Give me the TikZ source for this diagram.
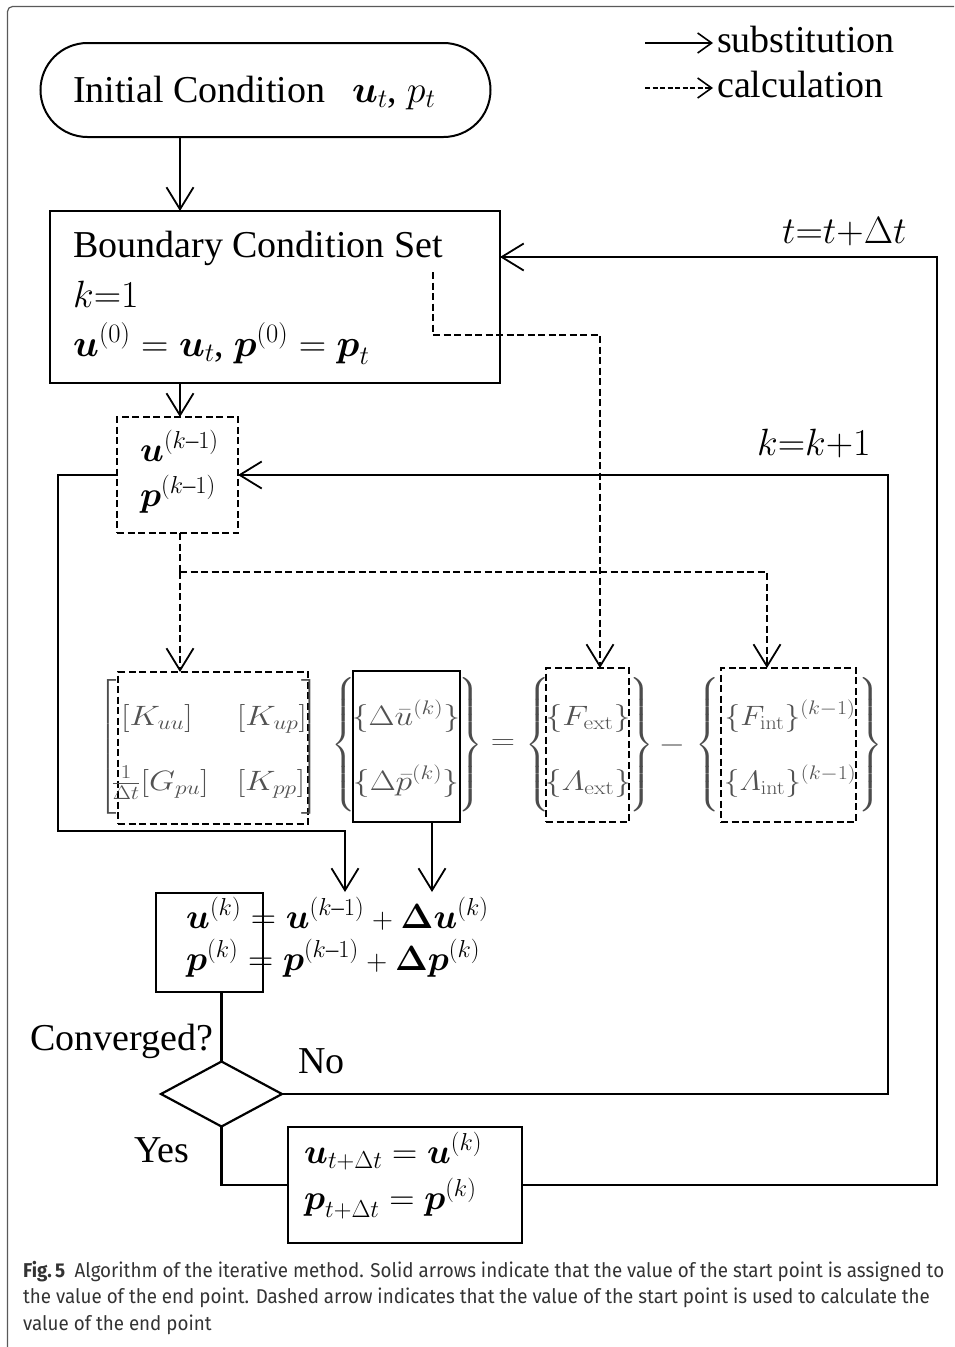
\RequirePackage{fix-cm}
\documentclass[tikz,border=0pt]{standalone}
\usepackage{amsmath}
\usepackage[no-math]{fontspec}
\setmainfont{Liberation Serif}
\newfontfamily\capfont{Fira Sans}
\usetikzlibrary{arrows.meta,shapes.geometric}
\newsavebox\capbox
\newlength\capw
\newcommand\fbig{\fontsize{38}{44}\selectfont}
\newcommand\feq{\fontsize{35}{40}\selectfont}
\newcommand\fmat{\fontsize{28}{32}\selectfont}
\newcommand\fcap{\capfont\fontsize{20}{24}\selectfont}
\newcommand\bu{\boldsymbol{u}}
\newcommand\bp{\boldsymbol{p}}
\newcommand\kmo{(k\text{--}1)}
\newcommand\pls{\mathbin{\text{\fontsize{29}{29}\selectfont$+$}}}
\newcommand\hs[1]{\scalebox{1.2}[1]{#1}}
\newcommand\tallL[2]{\scalebox{1.1}[1]{$\left#1\vrule height #2 depth #2 width 0pt\right.$}}
\newcommand\tallR[2]{\scalebox{1.1}[1]{$\left.\vrule height #2 depth #2 width 0pt\right#1$}}
\newcommand\capone{\textbf{Fig.\,5}\enspace Algorithm of the iterative method. Solid arrows indicate that the value of the start point is assigned to}
\tikzset{
 ln/.style={line width=2.2pt},
 dsh/.style={line width=2pt, dash pattern=on 7pt off 3.5pt},
 arr/.style={-{Straight Barb[length=22pt,width=27pt,line width=1.8pt]}},
 sarr/.style={-{Straight Barb[length=14pt,width=20pt,line width=1.6pt]}},
 sbox/.style={draw, line width=2.5pt, inner sep=0pt, outer sep=0pt},
 dbox/.style={draw, line width=2pt, dash pattern=on 7pt off 3.5pt, inner sep=0pt, outer sep=0pt},
 txt/.style={anchor=base west, inner sep=0pt, font=\fbig},
 eqt/.style={anchor=base west, inner sep=0pt, font=\feq},
 mt/.style={inner sep=0pt, text=black!68, font=\fmat},
 mtb/.style={mt, anchor=base},
 dlm/.style={inner sep=0pt, text=black!70, font=\fmat},
 captxt/.style={anchor=base west, inner sep=0pt, text=black!80, font=\fcap},
}
\begin{document}
\sbox\capbox{\fcap\capone}%
\setlength\capw{\wd\capbox}%
\pgfmathsetmacro\capsc{921/\capw}%
\begin{tikzpicture}[x=1pt,y=-1pt]
\useasboundingbox (0,0) rectangle (954,1347);
\draw[line width=1.2pt, black!65, rounded corners=5pt] (7.5,1347) -- (7.5,6.5) -- (954,6.5);

% legend
\coordinate (lg1a) at (645,43); \coordinate (lg1b) at (713,43);
\coordinate (lg2a) at (645,88); \coordinate (lg2b) at (713,88);
\draw[line width=1.8pt, sarr] (lg1a) -- (lg1b);
\draw[line width=1.8pt, dash pattern=on 5pt off 2.5pt, sarr] (lg2a) -- (lg2b);
\node[txt] (sub) at (717,52) {substitution};
\node[txt] (calc) at (717,97) {calculation};

% initial condition
\node[draw, line width=2pt, rounded corners=47pt, minimum width=450pt, minimum height=94pt, inner sep=0pt, outer sep=0pt] (ic) at (265.5,90) {};
\node[txt] (ictxt) at (73,102) {Initial Condition\hspace{0.7em}$\bu_t$, $p_t$};

% boundary condition
\node[sbox, anchor=north west, minimum width=450pt, minimum height=172pt] (bc) at (50,211) {};
\node[txt] (bc1) at (73,257) {Boundary Condition Set};
\node[txt] (bc2) at (73,307) {$k{=}1$};
\node[txt] (bc3) at (73,356) {$\bu^{(0)} = \bu_t$, $\bp^{(0)} = \bp_t$};
\coordinate (ax) at (180,0);
\draw[line width=1.6pt, arr] (ic.south -| ax) -- (bc.north -| ax);

% previous iterate
\node[dbox, minimum width=121pt, minimum height=116pt] (km) at (177.5,475) {};
\node[eqt] (km1) at (140,461) {$\bu^{\kmo}$};
\node[eqt] (km2) at (140,506) {$\bp^{\kmo}$};
\draw[ln, arr] (bc.south -| ax) -- (km.north -| ax);

\node[txt] (tlab) at (782,243) {$t{=}t{+}\Delta t$};
\node[txt] (klab) at (757,455) {$k{=}k{+}1$};

% matrix equation
\node[dbox, minimum width=190pt, minimum height=152pt] (K) at (213,748) {};
\node[sbox, minimum width=107pt, minimum height=151pt] (D) at (406.5,746.5) {};
\node[dbox, minimum width=83pt, minimum height=154pt] (fe) at (587.5,745) {};
\node[dbox, minimum width=135pt, minimum height=154pt] (fi) at (788.5,745) {};

\node[mtb] (k11) at (157,725) {\hs{$[K_{uu}]$}};
\node[mtb] (k12) at (272,725) {\hs{$[K_{up}]$}};
\node[mtb] (k21) at (160,790) {\hs{$\tfrac{1}{\Delta t}[G_{pu}]$}};
\node[mtb] (k22) at (271,790) {\hs{$[K_{pp}]$}};
\node[mtb] (d1) at (406,725) {\hs{$\{\Delta\bar{u}^{(k)}\}$}};
\node[mtb] (d2) at (406,790) {\hs{$\{\Delta\bar{p}^{(k)}\}$}};
\node[mtb] (f1) at (588,725) {\hs{$\{F_{\mathrm{ext}}\}$}};
\node[mtb] (f2) at (588,790) {\hs{$\{\varLambda_{\mathrm{ext}}\}$}};
\node[mtb] (g1) at (790,725) {\scalebox{1.12}[1]{$\{F_{\mathrm{int}}\}^{(k-1)}$}};
\node[mtb] (g2) at (790,790) {\scalebox{1.12}[1]{$\{\varLambda_{\mathrm{int}}\}^{(k-1)}$}};

\node[dlm] (lbr) at (108,747) {\tallL[{58pt}};
\node[dlm] (rbr) at (310,747) {\tallR]{58pt}};
\node[dlm] (lb1) at (344,745) {\tallL\{{61pt}};
\node[dlm] (rb1) at (470,745) {\tallR\}{61pt}};
\node[dlm] (lb2) at (538,745) {\tallL\{{61pt}};
\node[dlm] (rb2) at (641,745) {\tallR\}{61pt}};
\node[dlm] (lb3) at (708,745) {\tallL\{{61pt}};
\node[dlm] (rb3) at (870,745) {\tallR\}{61pt}};
\node[mt] (eqs) at (503,745) {\hs{$=$}};
\node[mt] (mns) at (672,745) {\hs{$-$}};

% dashed calculation arrows
\coordinate (ds) at (433,272); \coordinate (dm) at (433,335); \coordinate (ex) at (600,0);
\draw[dsh, arr] (ds) -- (dm) -| (fe.north -| ex);
\coordinate (dj) at (180,572); \coordinate (fx) at (767,0);
\draw[dsh] (km.south -| ax) -- (dj);
\draw[dsh, arr] (dj) -- (K.north -| ax);
\draw[dsh, arr] (dj) -| (fi.north -| fx);

% update box
\node[sbox, anchor=north west, minimum width=107pt, minimum height=99pt] (eq) at (156,893) {};
\node[eqt] (eq1) at (186,928) {$\bu^{(k)} = \bu^{\kmo} \pls \boldsymbol{\Delta}\bu^{(k)}$};
\node[eqt] (eq2) at (186,970) {$\bp^{(k)} = \bp^{\kmo} \pls \boldsymbol{\Delta}\bp^{(k)}$};

\coordinate (lp1) at (58,831); \coordinate (lp2) at (345,892);
\draw[ln, arr] (km.west) -| (lp1) -| (lp2);
\coordinate (eqa) at (432,892);
\draw[ln, arr] (D.south -| eqa) -- (eqa);

% decision
\node[draw, diamond, line width=2.2pt, minimum width=121pt, minimum height=65pt, inner sep=0pt, outer sep=0pt] (dia) at (221.5,1094) {};
\draw[ln] (dia.north |- eq.south) -- (dia.north);
\node[txt] (conv) at (30,1050) {Converged?};
\node[txt] (no) at (298,1073) {No};
\node[txt] (yes) at (134,1162) {Yes};
\coordinate (kc) at (888,475);
\draw[ln, arr] (dia.east) -| (kc) -- (km.east);

% result
\node[sbox, anchor=north west, minimum width=234pt, minimum height=116pt] (res) at (288,1127) {};
\node[eqt] (r1) at (304,1163) {$\bu_{t+\Delta t} = \bu^{(k)}$};
\node[eqt] (r2) at (304,1209) {$\bp_{t+\Delta t} = \bp^{(k)}$};
\draw[ln] (dia.south) |- (res.west);
\coordinate (tc) at (937,257);
\draw[ln, arr] (res.east) -| (tc) -- (tc -| bc.east);

% caption
\node[captxt] (cap1) at (23,1277) {\scalebox{\capsc}[1]{\capone}};
\node[captxt] (cap2) at (23,1303) {\scalebox{\capsc}[1]{the value of the end point. Dashed arrow indicates that the value of the start point is used to calculate the}};
\node[captxt] (cap3) at (23,1330) {\scalebox{\capsc}[1]{value of the end point}};
\end{tikzpicture}
\end{document}
